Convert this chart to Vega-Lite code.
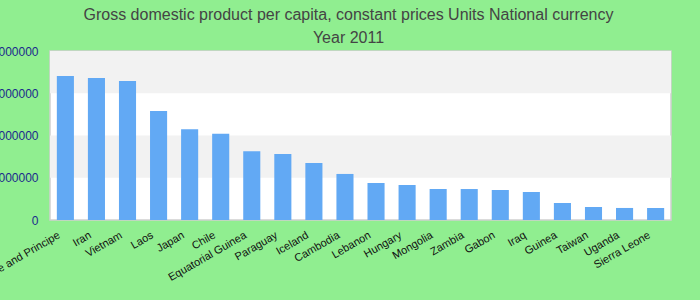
{
  "$schema": "https://vega.github.io/schema/vega-lite/v6.json",
  "autosize": {"type": "none"},
  "width": 621,
  "height": 169,
  "padding": {"left": 50, "top": 51, "right": 29, "bottom": 80},
  "background": "#90ee90",
  "config": {
    "font": "Liberation Sans",
    "view": {"fill": "white", "stroke": "#d0d0d0", "strokeWidth": 1.5}
  },
  "title": {
    "text": ["Gross domestic product per capita, constant prices Units National currency", "Year 2011"],
    "fontSize": 16,
    "fontWeight": "normal",
    "color": "#444444",
    "lineHeight": 23,
    "anchor": "middle",
    "frame": "group",
    "dx": -12,
    "offset": -1
  },
  "datasets": {
    "bars": [
      {"country": "Sao Tome and Principe", "value": 34080000},
      {"country": "Iran", "value": 33600000},
      {"country": "Vietnam", "value": 32900000},
      {"country": "Laos", "value": 25800000},
      {"country": "Japan", "value": 21500000},
      {"country": "Chile", "value": 20400000},
      {"country": "Equatorial Guinea", "value": 16300000},
      {"country": "Paraguay", "value": 15600000},
      {"country": "Iceland", "value": 13500000},
      {"country": "Cambodia", "value": 10900000},
      {"country": "Lebanon", "value": 8760000},
      {"country": "Hungary", "value": 8280000},
      {"country": "Mongolia", "value": 7340000},
      {"country": "Zambia", "value": 7330000},
      {"country": "Gabon", "value": 7100000},
      {"country": "Iraq", "value": 6630000},
      {"country": "Guinea", "value": 4020000},
      {"country": "Taiwan", "value": 3080000},
      {"country": "Uganda", "value": 2850000},
      {"country": "Sierra Leone", "value": 2840000}
    ],
    "bands": [
      {"lo": 10000000, "hi": 20000000},
      {"lo": 30000000, "hi": 40000000}
    ]
  },
  "layer": [
    {
      "data": {"name": "bands"},
      "mark": {"type": "rect", "fill": "#f2f2f2"},
      "encoding": {
        "y": {"field": "lo", "type": "quantitative", "scale": {"domain": [0, 40000000], "nice": false}},
        "y2": {"field": "hi"}
      }
    },
    {
      "data": {"name": "bars"},
      "mark": {"type": "bar", "color": "#62a9f4"},
      "encoding": {
        "x": {
          "field": "country",
          "type": "nominal",
          "sort": null,
          "scale": {"paddingInner": 0.45, "paddingOuter": 0.22},
          "axis": {
            "title": null,
            "domain": false,
            "ticks": false,
            "labelAngle": -30,
            "labelAlign": "right",
            "labelBaseline": "top",
            "labelFontSize": 11,
            "labelColor": "#111111",
            "labelPadding": 9,
            "labelOffset": -9,
            "labelOverlap": false,
            "labelLimit": 0
          }
        },
        "y": {
          "field": "value",
          "type": "quantitative",
          "scale": {"domain": [0, 40000000], "nice": false},
          "axis": {
            "title": null,
            "domain": false,
            "ticks": false,
            "grid": false,
            "values": [0, 10000000, 20000000, 30000000, 40000000],
            "format": "d",
            "labelColor": "#1a2a8c",
            "labelFontSize": 12,
            "labelPadding": 12
          }
        }
      }
    }
  ]
}
